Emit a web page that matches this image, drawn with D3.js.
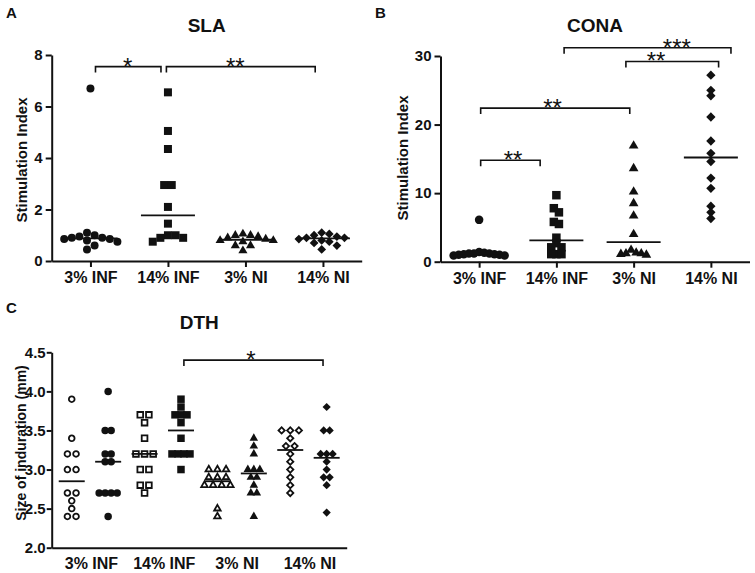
<!DOCTYPE html>
<meta charset="utf-8">
<script src="https://d3js.org/d3.v7.min.js"></script>
<style>
  body { margin: 0; background: #fff; }
</style>
<div id="chart"></div>
<script>
const groups = ["3% INF", "14% INF", "3% NI", "14% NI"];

// A - SLA stimulation index
const slaInf3 = [6.7, 1.1, 1.0, 0.95, 0.9, 0.9, 0.85, 0.85, 0.8, 0.75, 0.6, 0.45];
const slaInf14 = [6.55, 5.05, 4.35, 2.95, 2.95, 2.1, 1.45, 1.0, 1.0, 0.9, 0.9, 0.75];
const slaNi3 = [1.05, 1.0, 1.0, 0.95, 0.9, 0.85, 0.8, 0.8, 0.75, 0.6, 0.6, 0.4];
const slaNi14 = [1.1, 1.05, 1.0, 0.95, 0.9, 0.9, 0.85, 0.8, 0.75, 0.7, 0.6, 0.45];
const slaTicks = [0, 2, 4, 6, 8];
// brackets: ends and label given in group units (0 = first group)
const slaBrackets = [
  {from: 0.065, to: 0.91, y: 7.55, label: "*", at: 0.48},
  {from: 0.98, to: 2.9, y: 7.55, label: "**", at: 1.87}
];

// B - CONA stimulation index
const conaInf3 = [6.1, 1.4, 1.3, 1.2, 1.2, 1.2, 1.1, 1.1, 1.0, 1.0, 0.9, 0.9];
const conaInf14 = [9.7, 7.8, 7.2, 5.8, 5.5, 3.5, 2.7, 2.1, 2.1, 1.1, 1.1, 1.1];
const conaNi3 = [16.9, 13.6, 10.2, 8.5, 6.7, 4.0, 1.7, 1.3, 1.2, 1.2, 1.1, 1.0];
const conaNi14 = [27.2, 25.0, 24.2, 21.1, 17.6, 15.8, 14.6, 12.2, 10.7, 8.1, 7.2, 6.3];
const conaTicks = [0, 10, 20, 30];
const conaBrackets = [
  {from: 0.02, to: 0.79, y: 14.8, label: "**", at: 0.44},
  {from: 0.02, to: 1.95, y: 22.4, label: "**", at: 0.95},
  {from: 1.90, to: 3.10, y: 29.2, label: "**", at: 2.29},
  {from: 1.10, to: 3.26, y: 31.2, label: "***", at: 2.56}
];

// C - DTH size of induration, open and filled series per group
const dthInf3Open = [3.9, 3.4, 3.2, 3.2, 3.0, 3.0, 2.7, 2.7, 2.6, 2.5, 2.4, 2.4];
const dthInf3Filled = [4.0, 3.5, 3.5, 3.2, 3.2, 3.1, 3.1, 2.7, 2.7, 2.7, 2.7, 2.4];
const dthInf14Open = [3.7, 3.7, 3.6, 3.4, 3.2, 3.2, 3.2, 3.0, 3.0, 2.8, 2.8, 2.7];
const dthInf14Filled = [3.9, 3.8, 3.7, 3.7, 3.7, 3.6, 3.4, 3.2, 3.2, 3.2, 3.2, 3.0];
const dthNi3Open = [3.0, 3.0, 3.0, 2.9, 2.9, 2.9, 2.8, 2.8, 2.8, 2.8, 2.5, 2.4];
const dthNi3Filled = [3.4, 3.3, 3.2, 3.0, 3.0, 3.0, 2.9, 2.9, 2.8, 2.7, 2.7, 2.4];
const dthNi14Open = [3.5, 3.5, 3.5, 3.4, 3.3, 3.3, 3.2, 3.1, 3.0, 2.9, 2.8, 2.7];
const dthNi14Filled = [3.8, 3.5, 3.5, 3.2, 3.2, 3.2, 3.1, 3.0, 2.9, 2.9, 2.8, 2.45];
const dthTicks = [2.0, 2.5, 3.0, 3.5, 4.0, 4.5];
const dthBrackets = [
  {from: 3.08, to: 6.9, y: 4.4, label: "*", at: 4.92}
];

const ink = "#111";
const font = "'Liberation Sans', Arial, Helvetica, sans-serif";

const svg = d3.select("#chart").append("svg")
    .attr("width", 755)
    .attr("height", 573)
    .style("display", "block");
svg.append("rect").attr("width", 755).attr("height", 573).attr("fill", "#fff");

// spread points sideways where they would overlap, then centre each clump
function swarm(values, y, size, gap) {
  const placed = [];
  const out = new Array(values.length);
  const order = d3.range(values.length).sort((a, b) => d3.descending(values[a], values[b]));
  const need = size * gap;
  const step = need / 2;
  order.forEach(i => {
    const py = y(values[i]);
    for (let t = 0; t < 80; t++) {
      const dx = Math.ceil(t / 2) * (t % 2 ? 1 : -1) * step;
      if (placed.every(p => Math.hypot(p.dx - dx, p.py - py) >= need)) {
        placed.push({i, dx, py});
        break;
      }
    }
  });
  // clumps: chains of points closer than one marker vertically
  placed.sort((a, b) => a.py - b.py);
  let clump = [];
  const flush = () => {
    const m = d3.mean(clump, p => p.dx);
    clump.forEach(p => out[p.i] = p.dx - m);
    clump = [];
  };
  placed.forEach((p, k) => {
    if (k > 0 && p.py - placed[k - 1].py >= size) flush();
    clump.push(p);
  });
  flush();
  return out;
}

function marker(shape, w) {
  if (shape === "circle") return d3.symbol(d3.symbolCircle, Math.PI * w * w / 4)();
  if (shape === "square") return d3.symbol(d3.symbolSquare, w * w)();
  if (shape === "triangle") return d3.symbol(d3.symbolTriangle, Math.sqrt(3) / 4 * w * w * 1.3)();
  return d3.symbol(d3.symbolSquare, w * w / 2 * 1.2)();
}

function drawPanel(o) {
  const n = o.series.length;
  const x = d3.scalePoint().domain(d3.range(n)).range(o.xr).padding(o.pad);
  const xi = d3.scaleLinear().domain([0, n - 1]).range([x(0), x(n - 1)]);
  const y = d3.scaleLinear().domain(o.domain).range(o.yr);
  const g = svg.append("g");

  // axes
  g.append("g")
      .attr("class", "yaxis")
      .attr("transform", `translate(${o.xr[0]},0)`)
      .call(d3.axisLeft(y).tickValues(o.ticks).tickFormat(o.fmt)
        .tickSize(o.tick).tickSizeOuter(0).tickPadding(o.tickPad));
  g.append("g")
      .attr("class", "xaxis")
      .attr("transform", `translate(0,${o.yr[0]})`)
      .call(d3.axisBottom(x).tickValues(o.xTicks ? d3.range(n) : [])
        .tickFormat(i => groups[i]).tickSize(6).tickSizeOuter(0).tickPadding(5));
  g.selectAll(".domain, .tick line").attr("stroke", ink).attr("stroke-width", 2);
  g.selectAll(".tick text")
      .attr("fill", ink)
      .attr("font-family", font)
      .attr("font-weight", "bold");
  g.selectAll(".yaxis .tick text").attr("font-size", 15);
  g.selectAll(".xaxis .tick text").attr("font-size", 16);

  // paired columns share one group label
  if (!o.xTicks) {
    g.selectAll(".glabel")
      .data(groups)
      .join("text")
        .attr("x", (d, i) => (x(2 * i) + x(2 * i + 1)) / 2 + 1.5)
        .attr("y", o.yr[0] + 21)
        .attr("text-anchor", "middle")
        .attr("font-family", font)
        .attr("font-weight", "bold")
        .attr("font-size", 16)
        .attr("fill", ink)
        .text(d => d);
  }

  // points
  o.series.forEach((s, i) => {
    const dx = swarm(s.values, y, o.size, s.open ? o.gapOpen : o.gap);
    g.append("g")
      .selectAll("path")
      .data(s.values)
      .join("path")
        .attr("d", marker(s.shape, s.open ? o.size - 1.8 : o.size))
        .attr("transform", (d, j) => `translate(${x(i) + dx[j]},${y(d)})` + (s.shape === "diamond" ? " rotate(45)" : ""))
        .attr("fill", s.open ? "#fff" : ink)
        .attr("stroke", s.open ? ink : "none")
        .attr("stroke-width", 1.8);
    const m = d3.median(s.values);
    g.append("line")
        .attr("x1", x(i) - o.half)
        .attr("x2", x(i) + o.half)
        .attr("y1", y(m))
        .attr("y2", y(m))
        .attr("stroke", ink)
        .attr("stroke-width", 1.8);
  });

  // significance brackets
  o.brackets.forEach(b => {
    const by = y(b.y);
    g.append("path")
        .attr("d", `M${xi(b.from)},${by + 6}V${by}H${xi(b.to)}V${by + 6}`)
        .attr("fill", "none")
        .attr("stroke", ink)
        .attr("stroke-width", 1.6);
    g.append("text")
        .attr("x", xi(b.at))
        .attr("y", by + 8)
        .attr("text-anchor", "middle")
        .attr("font-family", font)
        .attr("font-size", 24)
        .attr("fill", ink)
        .text(b.label);
  });

  // title, panel letter, y label
  g.append("text")
      .attr("x", (o.xr[0] + o.xr[1]) / 2)
      .attr("y", o.titleY)
      .attr("text-anchor", "middle")
      .attr("font-family", font)
      .attr("font-weight", "bold")
      .attr("font-size", 19)
      .attr("fill", ink)
      .text(o.title);
  g.append("text")
      .attr("x", o.letterX)
      .attr("y", o.letterY)
      .attr("font-family", font)
      .attr("font-weight", "bold")
      .attr("font-size", 15)
      .attr("fill", ink)
      .text(o.letter);
  g.append("text")
      .attr("transform", `translate(${o.labelX},${o.labelY}) rotate(-90)`)
      .attr("text-anchor", "middle")
      .attr("font-family", font)
      .attr("font-weight", "bold")
      .attr("font-size", o.labelSize)
      .attr("fill", ink)
      .text(o.yLabel);
}

drawPanel({
  letter: "A", letterX: 6, letterY: 18,
  title: "SLA", titleY: 32,
  yLabel: "Stimulation Index", labelX: 27, labelY: 160, labelSize: 15,
  xr: [51.7, 361.7], yr: [261, 55], pad: 0.5, tick: 6, tickPad: 3,
  domain: [0, 8], ticks: slaTicks, fmt: d3.format("d"),
  xTicks: true, size: 8, half: 27, gap: 0.95,
  series: [
    {values: slaInf3, shape: "circle"},
    {values: slaInf14, shape: "square"},
    {values: slaNi3, shape: "triangle"},
    {values: slaNi14, shape: "diamond"}
  ],
  brackets: slaBrackets
});

drawPanel({
  letter: "B", letterX: 375, letterY: 18,
  title: "CONA", titleY: 32,
  yLabel: "Stimulation Index", labelX: 408, labelY: 158, labelSize: 15,
  xr: [440.5, 749.5], yr: [261.7, 56], pad: 0.5, tick: 6, tickPad: 3,
  domain: [0, 30], ticks: conaTicks, fmt: d3.format("d"),
  xTicks: true, size: 8.5, half: 27, gap: 0.6,
  series: [
    {values: conaInf3, shape: "circle"},
    {values: conaInf14, shape: "square"},
    {values: conaNi3, shape: "triangle"},
    {values: conaNi14, shape: "diamond"}
  ],
  brackets: conaBrackets
});

drawPanel({
  letter: "C", letterX: 6, letterY: 313,
  title: "DTH", titleY: 329,
  yLabel: "Size of induration (mm)", labelX: 26, labelY: 443, labelSize: 14,
  xr: [51.7, 346.7], yr: [547.7, 352.3], pad: 0.55, tick: 5, tickPad: 1,
  domain: [2, 4.5], ticks: dthTicks, fmt: d3.format(".1f"),
  xTicks: false, size: 7.5, half: 13, gap: 0.8, gapOpen: 1.15,
  series: [
    {values: dthInf3Open, shape: "circle", open: true},
    {values: dthInf3Filled, shape: "circle"},
    {values: dthInf14Open, shape: "square", open: true},
    {values: dthInf14Filled, shape: "square"},
    {values: dthNi3Open, shape: "triangle", open: true},
    {values: dthNi3Filled, shape: "triangle"},
    {values: dthNi14Open, shape: "diamond", open: true},
    {values: dthNi14Filled, shape: "diamond"}
  ],
  brackets: dthBrackets
});
</script>
